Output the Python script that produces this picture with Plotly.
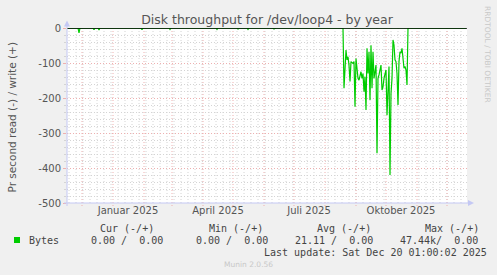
import pandas as pd
import plotly.graph_objects as go

# ---------------- data ----------------
# small read spikes before the busy period (bytes/s, read drawn negative)
spike_dates = ["2024-11-28", "2024-12-13", "2024-12-18", "2025-01-30", "2025-02-27",
               "2025-04-15", "2025-05-06", "2025-05-16", "2025-06-11"]
spike_values = [-14, -5, -6, -5, -4, -4, -3, -4, -3]

# daily read values during the busy period, starting at busy_start
busy_start = "2025-08-20"
busy_values = [
    -172, -110, -63, -91, -82, -106, -153, -96, -98, -101, -96, -225,            # Aug 20-31
    -87, -120, -144, -149, -135, -125, -144, -130, -182, -139, -234, -58, -130,  # Sep 1-13
    -68, -206, -49, -172, -68, -144, -120, -106, -358, -144, -134, -120, -106,   # Sep 14-26
    -177, -168, -144, -130,                                                      # Sep 27-30
    -120, -249, -140, -110, -420, -187, -144, -34, -49, -91, -96, -130, -220,    # Oct 1-13
    -96, -68, -72, -58, -96, -115, -110, -120, -163,                             # Oct 14-22
]
series_start = "2024-11-16"
series_end = "2025-12-20"

x_tick_vals = ["2025-01-16", "2025-04-16", "2025-07-16", "2025-10-16"]
x_tick_text = ["Januar 2025", "April 2025", "Juli 2025", "Oktober 2025"]
y_tick_vals = [0, -100, -200, -300, -400, -500]
y_tick_text = ["0", "-100", "-200", "-300", "-400", "-500"]

title_text = "Disk throughput for /dev/loop4 - by year"
y_title = "Pr second read (-) / write (+)"
legend_name = "Bytes"
legend_cols = ["Cur (-/+)", "Min (-/+)", "Avg (-/+)", "Max (-/+)"]
legend_vals = ["0.00 /  0.00", "0.00 /  0.00", "21.11 /  0.00", "47.44k/  0.00"]
last_update = "Last update: Sat Dec 20 01:00:02 2025"
munin_ver = "Munin 2.0.56"
rrd_credit = "RRDTOOL / TOBI OETIKER"

# ---------------- build series ----------------
idx = pd.date_range(series_start, series_end, freq="D")
read = pd.Series(0.0, index=idx)
for d, v in zip(spike_dates, spike_values):
    read[pd.Timestamp(d)] = v
busy_idx = pd.date_range(busy_start, periods=len(busy_values), freq="D")
read[busy_idx] = busy_values
write = pd.Series(0.0, index=idx)

GREEN = "#00cc00"
GRAY_GRID = "#d4d4d4"
RED_GRID = "#eeb0b0"
AXIS = "#c4c8f4"
DASH = "1px,2px"

fig = go.Figure()
fig.add_trace(go.Scatter(x=read.index, y=read.values, mode="lines",
                         line=dict(color=GREEN, width=1.2), hoverinfo="skip"))
fig.add_trace(go.Scatter(x=write.index, y=write.values, mode="lines",
                         line=dict(color=GREEN, width=1.2), hoverinfo="skip"))

L, T, W, H = 67, 28, 400, 175


def px(xp):
    return (xp - L) / W


def py(yp):
    return (T + H - yp) / H


shapes = []
# weekly (Monday) minor grid
for d in pd.date_range("2024-11-18", "2025-12-20", freq="7D"):
    shapes.append(dict(type="line", xref="x", yref="paper", x0=d, x1=d, y0=0, y1=1,
                       line=dict(color=GRAY_GRID, width=1, dash=DASH), layer="below"))
# monthly major grid
for d in pd.date_range("2024-12-01", "2025-12-01", freq="MS"):
    shapes.append(dict(type="line", xref="x", yref="paper", x0=d, x1=d, y0=py(206), y1=1,
                       line=dict(color=RED_GRID, width=1, dash=DASH), layer="below"))

# zero line on top of the data
shapes.append(dict(type="line", xref="paper", yref="y", x0=0, x1=1, y0=0, y1=0,
                   line=dict(color="#000000", width=1.6), layer="above"))

# axes with arrows
shapes.append(dict(type="line", xref="paper", yref="paper", x0=px(67), x1=px(67),
                   y0=py(206), y1=py(24), line=dict(color=AXIS, width=1)))
shapes.append(dict(type="line", xref="paper", yref="paper", x0=px(64), x1=px(469),
                   y0=py(203), y1=py(203), line=dict(color=AXIS, width=1)))
shapes.append(dict(type="path", xref="paper", yref="paper",
                   path=f"M {px(67)},{py(20.5)} L {px(64)},{py(26.5)} L {px(70)},{py(26.5)} Z",
                   fillcolor=AXIS, line=dict(width=0)))
shapes.append(dict(type="path", xref="paper", yref="paper",
                   path=f"M {px(474)},{py(203)} L {px(468)},{py(200)} L {px(468)},{py(206)} Z",
                   fillcolor=AXIS, line=dict(width=0)))
# legend swatch
shapes.append(dict(type="rect", xref="paper", yref="paper", x0=px(14), x1=px(20),
                   y0=py(243), y1=py(237), fillcolor=GREEN, line=dict(width=0)))

ann = []
MONO = "DejaVu Sans Mono"
TXT = "#444444"


def txt(text, x, y, size=10, family=MONO, color=TXT, xanchor="left", angle=0):
    ann.append(dict(text=text, x=px(x), y=py(y), xref="paper", yref="paper",
                    xanchor=xanchor, yanchor="middle", showarrow=False, textangle=angle,
                    font=dict(family=family, size=size, color=color)))


txt(y_title, 11, 117.5, size=10.5, family="DejaVu Sans", color="#555555",
    xanchor="center", angle=-90)
txt(rrd_credit, 488, 54, size=7.5, family="DejaVu Sans", color="#c8c8c8",
    xanchor="center", angle=90)
for t, x in zip(legend_cols, [98, 207, 315, 423]):
    txt(t, x, 228)
txt(legend_name, 27, 240)
for t, x in zip(legend_vals, [89, 194, 293, 398]):
    txt(t, x, 240)
txt(last_update, 262, 252)
txt(munin_ver, 248, 264, size=7.5, family="DejaVu Sans", color="#c8c8c8", xanchor="center")

fig.update_layout(
    width=497, height=275,
    margin=dict(l=L, r=497 - L - W, t=T, b=275 - T - H),
    paper_bgcolor="#f0f0f0", plot_bgcolor="white",
    showlegend=False,
    title=dict(text=title_text, x=0.5, xref="paper", xanchor="center",
               y=1 - 20 / 275, yref="container", yanchor="middle",
               font=dict(family="DejaVu Sans", size=12.5, color="#555555")),
    xaxis=dict(type="date", range=["2024-11-16", "2025-12-21"],
               tickvals=x_tick_vals, ticktext=x_tick_text,
               showgrid=False, zeroline=False, showline=False, ticks="",
               tickfont=dict(family="DejaVu Sans", size=10, color="#555555"),
               fixedrange=True),
    yaxis=dict(range=[-500, 0], tickvals=y_tick_vals, ticktext=y_tick_text,
               showgrid=True, gridcolor=RED_GRID, griddash=DASH, gridwidth=1,
               minor=dict(dtick=20, tick0=0, showgrid=True, gridcolor=GRAY_GRID,
                          griddash=DASH, gridwidth=1, ticks="outside", ticklen=2,
                          tickcolor=GRAY_GRID),
               ticks="outside", ticklen=3, tickcolor=RED_GRID,
               zeroline=False, showline=False,
               tickfont=dict(family="DejaVu Sans", size=10, color="#555555"),
               fixedrange=True),
    shapes=shapes, annotations=ann,
)

fig.write_html("out.html")
